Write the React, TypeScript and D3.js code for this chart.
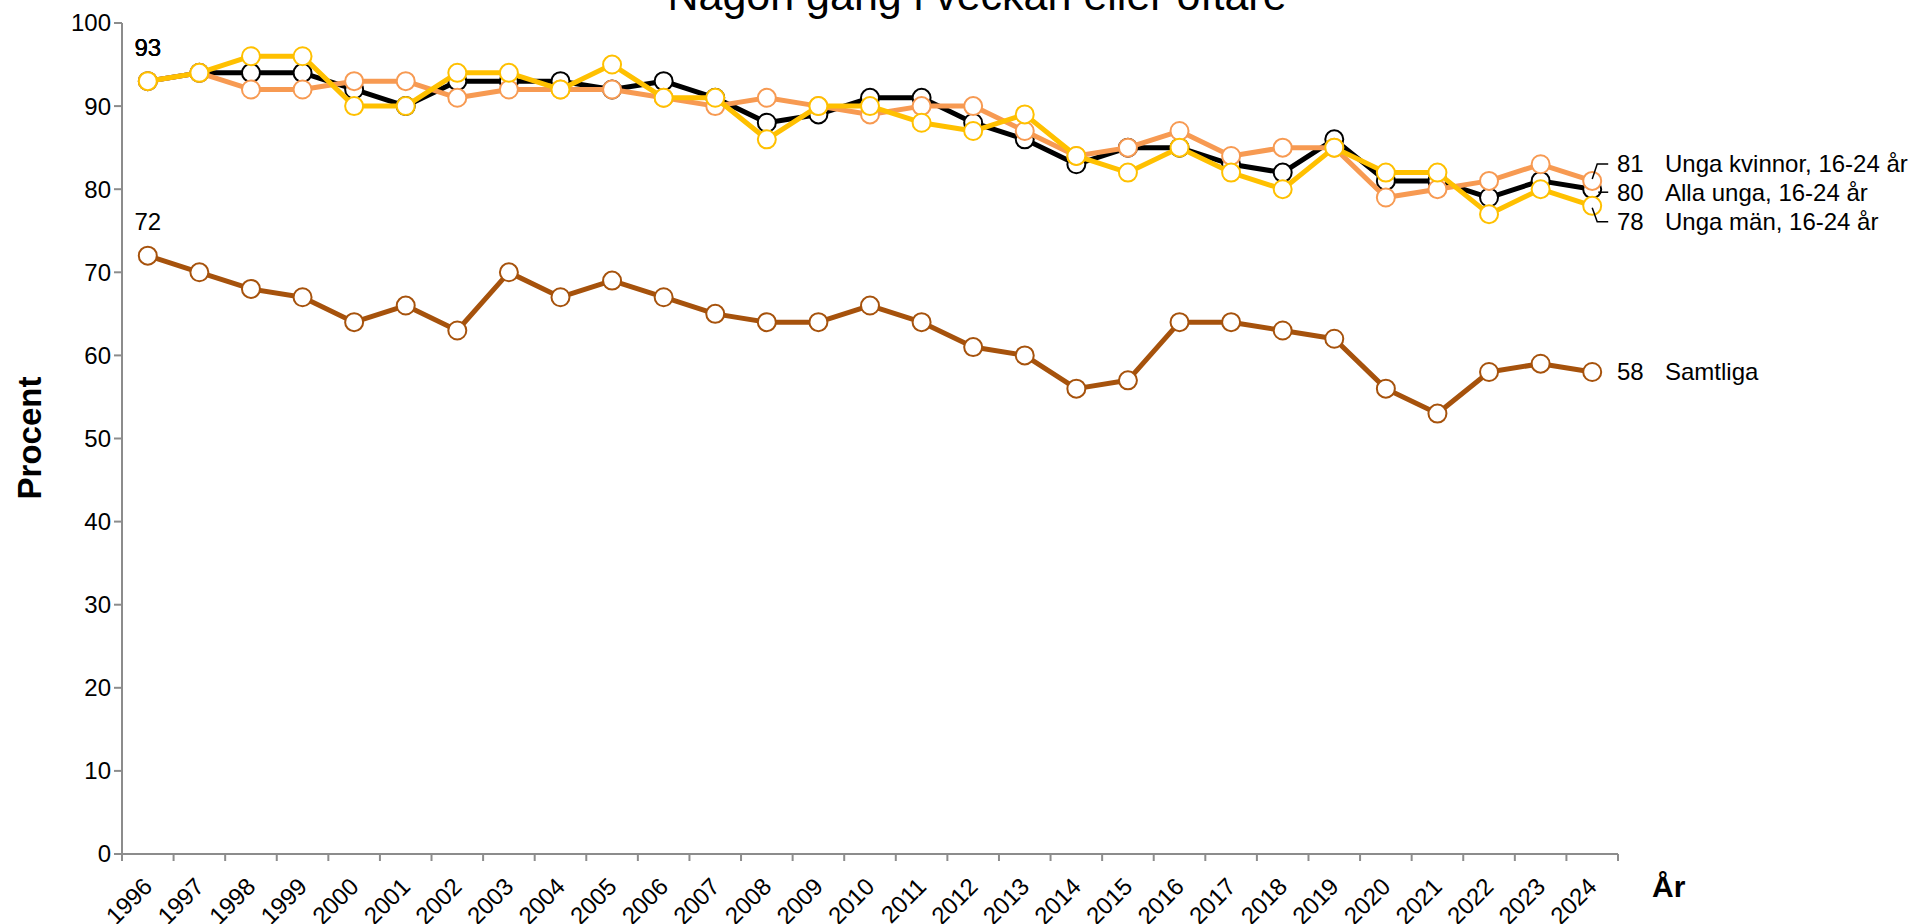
import React from "react";
import * as d3 from "d3";

const years = [
  "1996","1997","1998","1999","2000","2001","2002","2003","2004","2005",
  "2006","2007","2008","2009","2010","2011","2012","2013","2014","2015",
  "2016","2017","2018","2019","2020","2021","2022","2023","2024",
];

const samtliga = [72,70,68,67,64,66,63,70,67,69,67,65,64,64,66,64,61,60,56,57,64,64,63,62,56,53,58,59,58];
const allaUnga = [93,94,94,94,92,90,93,93,93,92,93,91,88,89,91,91,88,86,83,85,85,83,82,86,81,81,79,81,80];
const ungaKvinnor = [93,94,92,92,93,93,91,92,92,92,91,90,91,90,89,90,90,87,84,85,87,84,85,85,79,80,81,83,81];
const ungaMan = [93,94,96,96,90,90,94,94,92,95,91,91,86,90,90,88,87,89,84,82,85,82,80,85,82,82,77,80,78];

const yTicks = [0,10,20,30,40,50,60,70,80,90,100];

const seriesNames = ["Samtliga", "Alla unga, 16-24 år", "Unga kvinnor, 16-24 år", "Unga män, 16-24 år"];
const seriesColors = ["#A6520C", "#000000", "#F79A52", "#FFC000"];
const seriesValues = [samtliga, allaUnga, ungaKvinnor, ungaMan];
// vertical offset of the end label relative to the series' own last point
const endLabelShift = [0, 3, -17, 16];

const title = "Någon gång i veckan eller oftare";
const FONT = "'Liberation Sans', Arial, Helvetica, sans-serif";

export default function App() {
  const W = 1913, H = 924;
  const left = 122, right = 1618, top = 23, bottom = 854;

  const x = d3.scaleBand<string>().domain(years).range([left, right]).padding(0);
  const y = d3.scaleLinear().domain([0, 100]).range([bottom, top]);
  const cx = (yr: string) => (x(yr) as number) + x.bandwidth() / 2;

  const line = d3
    .line<number>()
    .x((_, i) => cx(years[i]))
    .y((v) => y(v));

  const axisColor = "#8C8C8C";
  const lastYear = years[years.length - 1];
  const lx = cx(lastYear);

  return (
    <svg
      width={W}
      height={H}
      style={{ position: "absolute", left: 0, top: 0, background: "#fff" }}
      fontFamily={FONT}
    >
      <rect x={0} y={0} width={W} height={H} fill="#fff" />
      {/* title */}
      <text x={977} y={10} fontSize={43} textAnchor="middle" fill="#000">
        {title}
      </text>

      {/* y axis */}
      <line x1={left} x2={left} y1={top} y2={bottom} stroke={axisColor} strokeWidth={2} />
      {yTicks.map((t) => (
        <g key={t}>
          <line x1={left - 8} x2={left} y1={y(t)} y2={y(t)} stroke={axisColor} strokeWidth={2} />
          <text x={111} y={y(t)} dy="0.35em" fontSize={24} textAnchor="end" fill="#000">
            {t}
          </text>
        </g>
      ))}

      {/* x axis */}
      <line x1={left} x2={right} y1={bottom} y2={bottom} stroke={axisColor} strokeWidth={2} />
      {years.map((yr) => (
        <line
          key={"t" + yr}
          x1={x(yr) as number}
          x2={x(yr) as number}
          y1={bottom}
          y2={bottom + 7}
          stroke={axisColor}
          strokeWidth={2}
        />
      ))}
      <line x1={right} x2={right} y1={bottom} y2={bottom + 7} stroke={axisColor} strokeWidth={2} />
      {years.map((yr) => (
        <text
          key={"l" + yr}
          transform={`translate(${cx(yr) + 6},${bottom + 34}) rotate(-45)`}
          fontSize={24}
          textAnchor="end"
          fill="#000"
        >
          {yr}
        </text>
      ))}

      {/* axis titles */}
      <text
        transform={`translate(41,438) rotate(-90)`}
        fontSize={33}
        fontWeight="bold"
        textAnchor="middle"
        fill="#000"
      >
        Procent
      </text>
      <text x={1652} y={897} fontSize={30} fontWeight="bold" fill="#000">
        År
      </text>

      {/* series */}
      {seriesValues.map((vals, si) => (
        <g key={"s" + si}>
          <path
            d={line(vals) as string}
            fill="none"
            stroke={seriesColors[si]}
            strokeWidth={5}
            strokeLinejoin="round"
          />
          {vals.map((v, i) => (
            <circle
              key={i}
              cx={cx(years[i])}
              cy={y(v)}
              r={9}
              fill="#fff"
              stroke={seriesColors[si]}
              strokeWidth={2}
            />
          ))}
        </g>
      ))}

      {/* first-point data labels */}
      {seriesValues.map((vals, si) => (
        <text
          key={"f" + si}
          x={cx(years[0])}
          y={y(vals[0]) - 34}
          dy="0.35em"
          fontSize={24}
          textAnchor="middle"
          fill="#000"
        >
          {vals[0]}
        </text>
      ))}

      {/* end labels with leader lines */}
      {seriesValues.map((vals, si) => {
        const v = vals[vals.length - 1];
        const py = y(v);
        const ly = py + endLabelShift[si];
        let leader: string | null = null;
        if (si === 1) leader = `M${lx + 6},${ly} L${lx + 16},${ly}`;
        if (si === 2) leader = `M${lx},${py - 2} L${lx + 5},${ly} L${lx + 16},${ly}`;
        if (si === 3) leader = `M${lx},${py + 2} L${lx + 5},${ly} L${lx + 16},${ly}`;
        return (
          <g key={"e" + si}>
            {leader && <path d={leader} fill="none" stroke="#000" strokeWidth={1.5} />}
            <text x={1617} y={ly} dy="0.35em" fontSize={24} fill="#000">
              {v}
            </text>
            <text x={1665} y={ly} dy="0.35em" fontSize={24} fill="#000">
              {seriesNames[si]}
            </text>
          </g>
        );
      })}
    </svg>
  );
}
